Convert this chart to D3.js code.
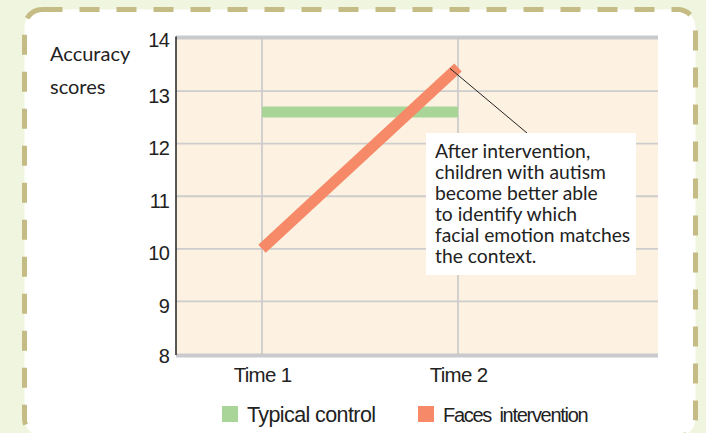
<!DOCTYPE html>
<html>
<head>
<meta charset="utf-8">
<script src="https://cdn.jsdelivr.net/npm/d3@7"></script>
<style>
  html, body { margin: 0; padding: 0; background: #eff5de; }
  svg { display: block; }
</style>
</head>
<body>
<svg id="chart" width="706" height="433"></svg>
<script>
// Data
const times = ["Time 1", "Time 2"];
const typicalControl = [12.6, 12.6];
const facesIntervention = [10, 13.45];
const yTicks = [8, 9, 10, 11, 12, 13, 14];
const seriesNames = ["Typical control", "Faces  intervention"];
const seriesColors = ["#aad598", "#f68a68"];
const noteLines = [
  "After intervention,",
  "children with autism",
  "become better able",
  "to identify which",
  "facial emotion matches",
  "the context."
];

const svg = d3.select("#chart");

// Card with dashed border
svg.append("rect")
  .attr("x", 24.5).attr("y", 9.5).attr("width", 671).attr("height", 427)
  .attr("rx", 18).attr("ry", 18)
  .attr("fill", "#ffffff")
  .attr("stroke", "#c4bc84").attr("stroke-width", 5)
  .attr("stroke-dasharray", "20 17");
svg.append("rect")
  .attr("x", 27).attr("y", 12.5).attr("width", 666).attr("height", 421.5)
  .attr("rx", 16).attr("ry", 16)
  .attr("fill", "#ffffff");

// Scales
const x = d3.scalePoint().domain(times).range([262, 458]);
const y = d3.scaleLinear().domain([8, 14]).range([354, 38.5]);
const plotLeft = 176, plotRight = 658;

// Plot background
svg.append("rect")
  .attr("x", plotLeft).attr("y", y(14))
  .attr("width", plotRight - plotLeft).attr("height", y(8) - y(14))
  .attr("fill", "#fdf1e1");

// Horizontal grid
svg.append("g").selectAll("line")
  .data(yTicks.filter(d => d > 8 && d < 14))
  .join("line")
  .attr("x1", plotLeft).attr("x2", plotRight)
  .attr("y1", d => y(d)).attr("y2", d => y(d))
  .attr("stroke", "#cdcdcd").attr("stroke-width", 1.8);

// Vertical grid
svg.append("g").selectAll("line")
  .data(times)
  .join("line")
  .attr("x1", d => x(d)).attr("x2", d => x(d))
  .attr("y1", y(14)).attr("y2", y(8))
  .attr("stroke", "#cdcdcd").attr("stroke-width", 1.8);

// Heavy top and bottom rules
svg.append("g").selectAll("line")
  .data([14, 8])
  .join("line")
  .attr("x1", plotLeft).attr("x2", plotRight)
  .attr("y1", d => y(d) + (d === 14 ? -1 : 1.5))
  .attr("y2", d => y(d) + (d === 14 ? -1 : 1.5))
  .attr("stroke", "#c8cacb").attr("stroke-width", 4);

// Left axis line
svg.append("line")
  .attr("x1", plotLeft).attr("x2", plotLeft)
  .attr("y1", y(14) - 2).attr("y2", y(8) + 1)
  .attr("stroke", "#222").attr("stroke-width", 1.5);

// Y tick labels
const yAxis = svg.append("g")
  .attr("transform", `translate(${plotLeft},0)`)
  .call(d3.axisLeft(y).tickValues(yTicks).tickSize(0).tickPadding(7).tickFormat(d3.format("d")));
yAxis.select(".domain").remove();
yAxis.selectAll("text")
  .attr("dy", d => (d === 8 || d === 14) ? "0.42em" : "0.55em")
  .attr("font-family", "'Liberation Sans', Arial, sans-serif")
  .attr("font-size", 20)
  .attr("letter-spacing", -0.8)
  .attr("fill", "#222");

// X labels
const xAxis = svg.append("g")
  .attr("transform", `translate(0,${y(8)})`)
  .call(d3.axisBottom(x).tickSize(0).tickPadding(10));
xAxis.select(".domain").remove();
xAxis.selectAll("text")
  .attr("dy", "0.9em")
  .attr("font-family", "'Liberation Sans', Arial, sans-serif")
  .attr("font-size", 20.5)
  .attr("letter-spacing", -0.7)
  .attr("fill", "#222");

// Y title
svg.append("text")
  .attr("x", 50).attr("y", 61)
  .attr("font-family", "Lato, sans-serif").attr("font-size", 20)
  .attr("fill", "#222").text("Accuracy");
svg.append("text")
  .attr("x", 50).attr("y", 94)
  .attr("font-family", "Lato, sans-serif").attr("font-size", 20)
  .attr("fill", "#222").text("scores");

// Series lines
const line = d3.line().x((d, i) => x(times[i])).y(d => y(d));
svg.append("path")
  .datum(typicalControl)
  .attr("d", line)
  .attr("fill", "none")
  .attr("stroke", seriesColors[0]).attr("stroke-width", 11);
svg.append("path")
  .datum(facesIntervention)
  .attr("d", line)
  .attr("fill", "none")
  .attr("stroke", seriesColors[1]).attr("stroke-width", 11);

// Annotation
const noteX = 426, noteY = 133;
svg.append("line")
  .attr("x1", x(times[1]) - 8).attr("y1", y(facesIntervention[1]) + 1)
  .attr("x2", 527).attr("y2", noteY)
  .attr("stroke", "#222").attr("stroke-width", 1);
svg.append("rect")
  .attr("x", noteX).attr("y", noteY).attr("width", 210).attr("height", 142)
  .attr("fill", "#ffffff");
svg.append("g").selectAll("text")
  .data(noteLines)
  .join("text")
  .attr("x", noteX + 9)
  .attr("y", (d, i) => noteY + 25 + i * 21)
  .attr("font-family", "Lato, sans-serif").attr("font-size", 19.3)
  .attr("fill", "#222")
  .text(d => d);

// Legend
const legendX = [222, 418];
const legendFont = [21.5, 20];
const legendSpacing = [-0.6, -1.3];
const legend = svg.append("g").selectAll("g")
  .data(seriesNames)
  .join("g")
  .attr("transform", (d, i) => `translate(${legendX[i]},406)`);
legend.append("rect")
  .attr("width", 16).attr("height", 16)
  .attr("fill", (d, i) => seriesColors[i]);
legend.append("text")
  .attr("x", 25).attr("y", 15.5)
  .attr("font-family", "'Liberation Sans', Arial, sans-serif")
  .attr("font-size", (d, i) => legendFont[i])
  .attr("letter-spacing", (d, i) => legendSpacing[i])
  .style("white-space", "pre")
  .attr("fill", "#222")
  .text(d => d);
</script>
</body>
</html>
